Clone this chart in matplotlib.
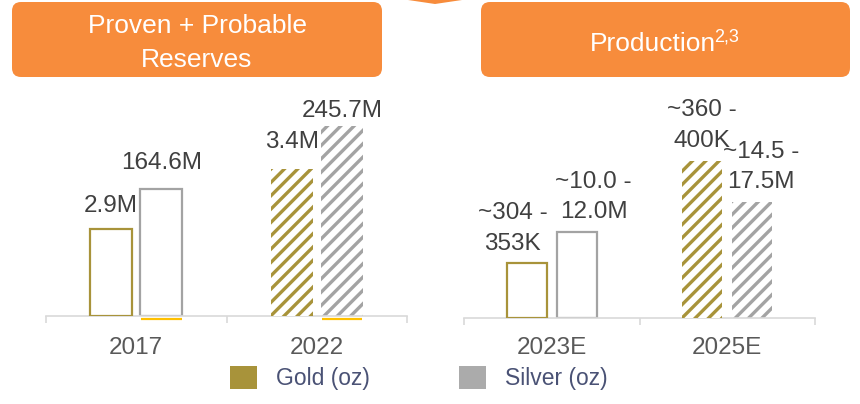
import matplotlib
matplotlib.use('Agg')
import matplotlib.pyplot as plt
from matplotlib.patches import FancyBboxPatch, Patch, Polygon
from matplotlib.transforms import ScaledTranslation

# drawn at 80 dpi so the '//' hatch gets the tighter stripe spacing;
# K turns sizes picked for 100 dpi into points at 80 dpi
DPI = 80
K = 100 / DPI

plt.rcParams['font.family'] = ['Liberation Sans', 'DejaVu Sans']
plt.rcParams['hatch.linewidth'] = 3.0

# reserves (left panel)
res_years = ['2017', '2022']
gold_res = [2.9, 3.4]          # Moz
silver_res = [164.6, 245.7]    # Moz
copper_res = [0, 0]
gold_res_lbl = ['2.9M', '3.4M']
silver_res_lbl = ['164.6M', '245.7M']

# production guidance (right panel), bars at range midpoints
prod_years = ['2023E', '2025E']
gold_prod = [328.5, 380.0]     # Koz
silver_prod = [11.0, 16.0]     # Moz
gold_prod_lbl = ['~304 -\n353K', '~360 -\n400K']
silver_prod_lbl = ['~10.0 -\n12.0M', '~14.5 -\n17.5M']

GOLD = '#A8933A'
SILVER = '#A3A3A3'
ORANGE = '#F78C3C'
AXIS = '#D9D9D9'
TXT = '#404040'

fig = plt.figure(figsize=(860 / DPI, 404 / DPI), dpi=DPI)

# background layer in pixel coords for the header boxes
bg = fig.add_axes([0, 0, 1, 1], zorder=-1)
bg.set_xlim(0, 860)
bg.set_ylim(404, 0)
bg.axis('off')
for x0, x1 in [(12, 382), (481, 850)]:
    bg.add_patch(FancyBboxPatch((x0 + 9, 2 + 9), x1 - x0 - 18, 75 - 18,
                                boxstyle='round,pad=9,rounding_size=9',
                                fc=ORANGE, ec='none'))
bg.add_patch(Polygon([(408, 0), (462, 0), (435, 4)], fc=ORANGE, ec='none'))
bg.text(197, 33, 'Proven + Probable', color='white', fontsize=19 * K,
        ha='center', va='baseline')
bg.text(197, 67, 'Reserves', color='white', fontsize=19 * K,
        ha='center', va='baseline')
bg.text(590, 51, 'Production', color='white', fontsize=19 * K,
        ha='left', va='baseline')
bg.text(714, 41, '2,3', color='white', fontsize=13 * K,
        ha='left', va='baseline')


def panel(rect, cats, gvals, svals, glim, slim, glbl, slbl, gpad, spad,
          hatched, width, off, pad):
    ax = fig.add_axes(rect)
    axg = ax.twinx()
    x = list(range(len(cats)))
    for i in x:
        style = dict(hatch='//', lw=0) if hatched[i] else dict(lw=1.6 * K)
        fc = 'white'
        axg.bar(i - off, gvals[i] - glim[0], bottom=glim[0], width=width,
                fc=fc, ec=GOLD, **style)
        ax.bar(i + off, svals[i] - slim[0], bottom=slim[0], width=width,
               fc=fc, ec=SILVER, **style)
        dx, dy = gpad[i]
        axg.annotate(glbl[i], (i - off, gvals[i]), xytext=(dx, dy),
                     textcoords='offset pixels', ha='center', va='bottom',
                     fontsize=17.5 * K, color=TXT, linespacing=1.5,
                     annotation_clip=False)
        dx, dy = spad[i]
        ax.annotate(slbl[i], (i + off, svals[i]), xytext=(dx, dy),
                    textcoords='offset pixels', ha='center', va='bottom',
                    fontsize=17.5 * K, color=TXT, linespacing=1.5,
                    annotation_clip=False)
    for a, lim in [(ax, slim), (axg, glim)]:
        a.set_ylim(*lim)
        a.set_yticks([])
        a.set_xlim(-0.5, len(cats) - 0.5)
        for s in a.spines.values():
            s.set_visible(False)
    ax.spines['bottom'].set_visible(True)
    ax.spines['bottom'].set_color(AXIS)
    ax.spines['bottom'].set_linewidth(1.2 * K)
    ax.spines['bottom'].set_zorder(5)
    ax.set_xticks(x, cats)
    ax.set_xticks([-0.5, 0.5, 1.5], minor=True)
    ax.tick_params(axis='x', which='major', length=0, pad=pad * K,
                   labelsize=17.5 * K, labelcolor='#595959')
    ax.tick_params(axis='x', which='minor', length=5 * K, width=1.2 * K,
                   color=AXIS, direction='out')
    ax.patch.set_alpha(0)
    return ax, axg, x


ax_l, axg_l, xl = panel([46 / 860, 88 / 404, 361 / 860, 220 / 404],
                        res_years, gold_res, silver_res,
                        (2.175, 4.008), (0, 284.6),
                        gold_res_lbl, silver_res_lbl,
                        [(0, 12), (0, 16)], [(0, 15), (0, 4)],
                        [False, True], 0.233, 0.139, 15)

# zero-height copper bars show as a short yellow line under the silver bars
shift = ScaledTranslation(0, -3 / DPI, fig.dpi_scale_trans)
for i in xl:
    b = ax_l.bar(i + 0.139, copper_res[i], width=0.225, fc='none',
                 ec='#FFC000', lw=1.6 * K, clip_on=False)[0]
    b.set_transform(ax_l.transData + shift)

panel([464 / 860, 86 / 404, 351 / 860, 222 / 404],
      prod_years, gold_prod, silver_prod,
      (300.7, 412.8), (-3.333, 33.667),
      gold_prod_lbl, silver_prod_lbl,
      [(-14, 8), (0, 9)], [(17, 9), (9, 9)],
      [False, True], 0.228, 0.142, 14)

fig.legend(handles=[Patch(fc=GOLD), Patch(fc='#ABABAB')],
           labels=['Gold (oz)', 'Silver (oz)'],
           loc='center left', bbox_to_anchor=(230 / 860, 1 - 378 / 404),
           ncol=2, frameon=False, fontsize=16.5 * K, labelcolor='#4A5275',
           handlelength=1.18, handleheight=1.18, handletextpad=0.83,
           columnspacing=3.9, borderpad=0, borderaxespad=0)

fig.savefig('out.png', dpi=DPI)
